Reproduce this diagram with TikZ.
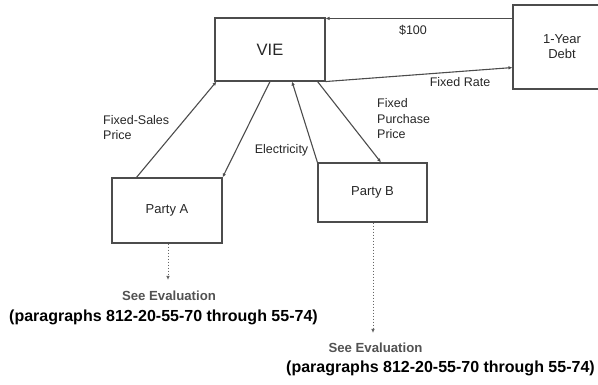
\documentclass[tikz,border=0pt]{standalone}
\usepackage{fontspec}
\setmainfont{Liberation Sans}
\usetikzlibrary{arrows.meta}
\begin{document}
\begin{tikzpicture}[x=1pt,y=-1pt,
  box/.style={draw=black!70,line width=1.1pt,rectangle,inner sep=0pt,text=black!85,
    font=\fontsize{13}{15}\selectfont,align=center},
  lbl/.style={inner sep=0pt,text=black!85,font=\fontsize{12.5}{15.5}\selectfont},
  arr/.style={draw=black!70,line width=1.1pt,-{Latex[length=4pt,width=3.6pt]}},
  dotarr/.style={draw=black!60,line width=1pt,dotted,-{Latex[length=4pt,width=3.6pt]}},
  seeval/.style={inner sep=0pt,text=black!68,font=\fontsize{13.2}{15}\selectfont\bfseries},
  paras/.style={inner sep=0pt,font=\fontsize{16}{18}\selectfont\bfseries}]
\useasboundingbox (0,0) rectangle (598,385);
\clip (0,0) rectangle (598,385);

% entities
\node[box,minimum width=110pt,minimum height=63pt,font=\fontsize{16.5}{18}\selectfont] (vie) at (270,49.5) {VIE};
\node[box,minimum width=98pt,minimum height=84pt] (debt) at (562,47) {1-Year\\Debt};
\node[box,minimum width=110pt,minimum height=65pt] (pa) at (167,210.5) {Party A};
\node[box,minimum width=109pt,minimum height=59pt] (pb) at (372.5,192.5) {Party B};

% flows between VIE and the lender
\draw[arr] ([yshift=-14pt]debt.north west) -- ([yshift=-1pt]vie.north east);
\draw[arr] (vie.south east) -- ([yshift=22pt]debt.south west);
\node[lbl] (l100) at (413,30) {\$100};
\node[lbl] (lrate) at (460,82) {Fixed Rate};

% flows between VIE and the parties
\draw[arr] ([xshift=25pt]pa.north west) -- ([xshift=2pt]vie.south west);
\draw[arr] (vie.south) -- (pa.north east);
\draw[arr] (pb.north west) -- ([xshift=22pt]vie.south);
\draw[arr] ([xshift=-8pt]vie.south east) -- ([xshift=8.5pt]pb.north);
\node[lbl,anchor=west,align=left] (lsales) at (103,127.5) {Fixed-Sales\\Price};
\node[lbl] (lelec) at (281.5,150) {Electricity};
\node[lbl,anchor=west,align=left] (lpurch) at (377,119) {Fixed\\Purchase\\Price};

% evaluation references
\coordinate (ea) at (168,280);
\coordinate (eb) at (373,333);
\draw[dotarr] (pa.south -| ea) -- (ea);
\draw[dotarr] (pb.south -| eb) -- (eb);
\node[seeval] (seea) at (169,296) {See Evaluation};
\node[paras] (para) at (163.5,317) {(paragraphs 812-20-55-70 through 55-74)};
\node[seeval] (seeb) at (375.5,347.5) {See Evaluation};
\node[paras] (parb) at (440.5,368) {(paragraphs 812-20-55-70 through 55-74)};
\end{tikzpicture}
\end{document}
